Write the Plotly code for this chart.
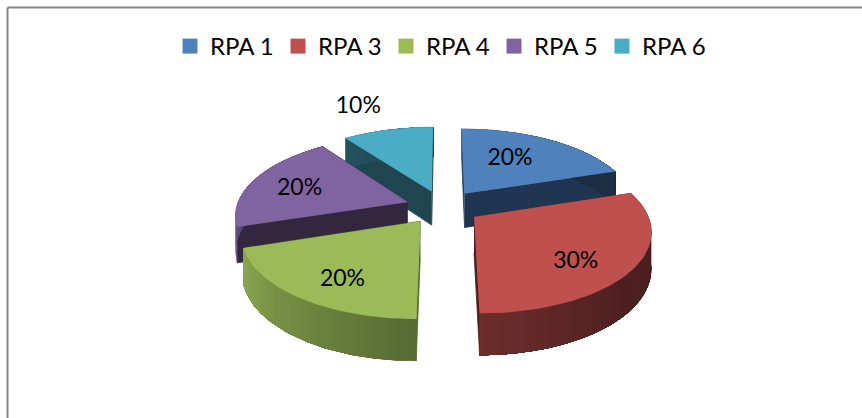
import numpy as np
import plotly.graph_objects as go

# ---- data ----
categories = ["RPA 1", "RPA 3", "RPA 4", "RPA 5", "RPA 6"]
shares = [20, 30, 20, 20, 10]
percent_labels = ["20%", "30%", "20%", "20%", "10%"]

# ---- style ----
TOP = ["#4f81bd", "#c0504d", "#9bbb59", "#8064a2", "#4bacc6"]
CUT = ["#1f3552", "#4a1f1e", "#55662c", "#33263f", "#1f4650"]
FONT = "Lato, Carlito, Calibri, sans-serif"

# ---- oblique projection of the exploded pie onto page pixels ----
W, H = 862, 418
CX, CY = 443, 207
AX, BY, PERSP, DEPTH, PULL = 171, 78, 0.15, 35, 0.22
LABEL_RADIUS = [0.6, 0.75, 0.75, 0.6, 1.55]
LABEL_NUDGE = [(-8, -1), (-14, 7), (10, 4), (-15, 1), (-10, 5)]
DRAW_ORDER = [4, 3, 0, 2, 1]


def project(gx, gy, lowered=False):
    s = 1 / (1 + PERSP * np.asarray(gy, float))
    return CX + AX * np.asarray(gx) * s, CY - BY * np.asarray(gy) * s + (DEPTH * s if lowered else 0)


def wall_factor(deg):
    return np.interp(deg, [60, 130, 180, 252, 290, 360], [0.36, 0.40, 0.57, 0.90, 0.55, 0.4])


def shade(hex_color, f):
    r, g, b = (int(hex_color[i:i + 2], 16) for i in (1, 3, 5))
    return f"rgb({r * f:.0f},{g * f:.0f},{b * f:.0f})"


total = sum(shares)
edges = np.concatenate([[0], np.cumsum(shares)]) / total * 360
fig = go.Figure()


def poly(xs, ys, color, group, line_width=0.8):
    fig.add_trace(go.Scatter(
        x=list(xs), y=list(ys), mode="lines", fill="toself", fillcolor=color,
        line=dict(color=color, width=line_width), hoverinfo="skip", showlegend=False,
        legendgroup=group,
    ))


for i in DRAW_ORDER:
    a0, a1 = edges[i], edges[i + 1]
    mid = np.radians((a0 + a1) / 2)
    ox, oy = PULL * np.sin(mid), PULL * np.cos(mid)
    deg = np.linspace(a0, a1, 60)
    th = np.radians(deg)
    gx, gy = ox + np.sin(th), oy + np.cos(th)
    tx, ty = project(gx, gy)
    bx, by = project(gx, gy, True)
    ax_t, ay_t = project([ox], [oy])
    ax_b, ay_b = project([ox], [oy], True)
    group = categories[i]
    # the two radial cut faces
    for k in (0, -1):
        poly([ax_t[0], tx[k], bx[k], ax_b[0]], [ay_t[0], ty[k], by[k], ay_b[0]], CUT[i], group)
    # the outer rim: each strip runs to the end of the arc, so the next one paints over its seam
    for k in range(0, len(deg) - 1, 2):
        xs = list(tx[k:]) + list(bx[k:][::-1])
        ys = list(ty[k:]) + list(by[k:][::-1])
        poly(xs, ys, shade(TOP[i], float(wall_factor(deg[k]))), group, 0)
    # the top face
    poly([ax_t[0], *tx], [ay_t[0], *ty], TOP[i], group)

# percent labels
lx, ly = [], []
for i in range(len(shares)):
    mid = np.radians((edges[i] + edges[i + 1]) / 2)
    r = PULL + LABEL_RADIUS[i]
    px, py = project([r * np.sin(mid)], [r * np.cos(mid)])
    lx.append(px[0] + LABEL_NUDGE[i][0])
    ly.append(py[0] + LABEL_NUDGE[i][1])
fig.add_trace(go.Scatter(
    x=lx, y=ly, mode="text", text=percent_labels, textposition="middle center",
    textfont=dict(family=FONT, size=23, color="#000000"), hoverinfo="skip", showlegend=False,
))

# legend entries
for i, name in enumerate(categories):
    fig.add_trace(go.Scatter(
        x=[None], y=[None], mode="markers", name=name, legendgroup=name,
        marker=dict(symbol="square", size=15, color=TOP[i]),
    ))

fig.update_layout(
    width=W, height=H, margin=dict(l=0, r=0, t=0, b=0),
    paper_bgcolor="white", plot_bgcolor="white",
    xaxis=dict(range=[0, W], visible=False, fixedrange=True),
    yaxis=dict(range=[H, 0], visible=False, fixedrange=True),
    legend=dict(
        orientation="h", x=170 / W, y=1 - 24 / H, xanchor="left", yanchor="top",
        entrywidth=63, entrywidthmode="pixels", font=dict(family=FONT, size=24, color="#000000"),
        bgcolor="rgba(0,0,0,0)",
    ),
    shapes=[
        dict(type="line", xref="paper", yref="paper", x0=7.5 / W, x1=1, y0=1 - 7.5 / H, y1=1 - 7.5 / H,
             line=dict(color="#868686", width=2)),
        dict(type="line", xref="paper", yref="paper", x0=7.5 / W, x1=7.5 / W, y0=0, y1=1 - 7.5 / H,
             line=dict(color="#868686", width=2)),
    ],
)
fig.write_html(
    "out.html",
    config={"displayModeBar": False},
    post_script="document.body.style.margin='0';document.body.style.overflow='hidden';",
)
